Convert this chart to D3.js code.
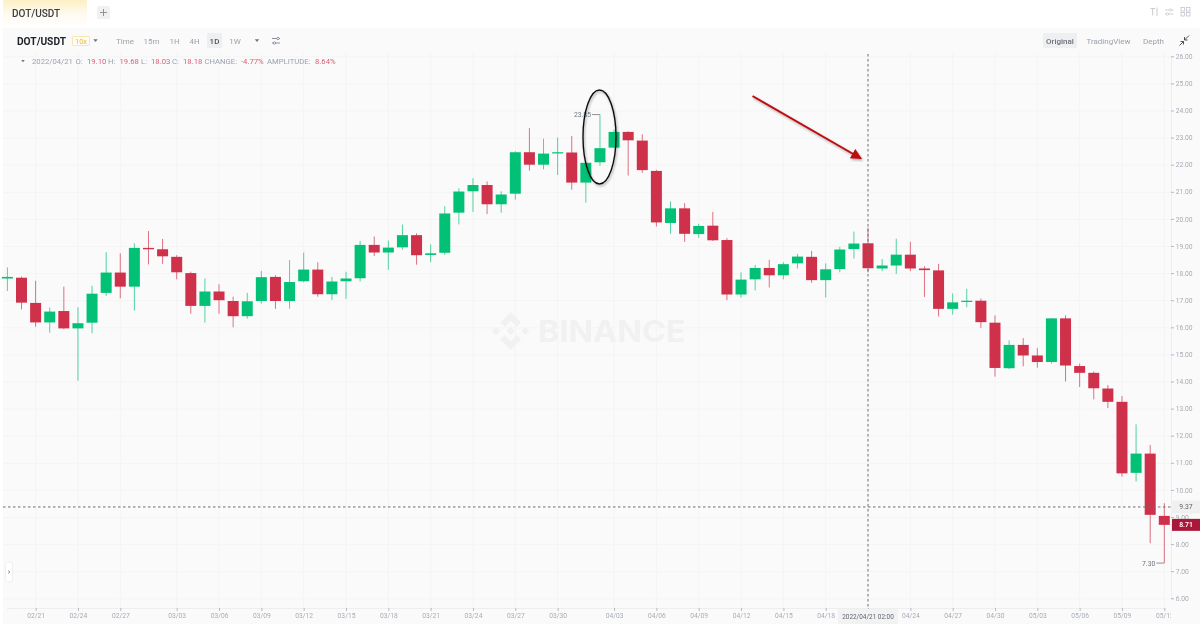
<!DOCTYPE html>
<html><head><meta charset="utf-8">
<script src="https://cdn.jsdelivr.net/npm/d3@7/dist/d3.min.js"></script>
<style>
html,body{margin:0;padding:0;background:#fff;overflow:hidden}
svg{display:block;filter:blur(0.35px);font-family:Roboto,"Noto Sans",sans-serif}
</style></head><body>
<svg id="c" width="1200" height="628"></svg>
<script>
const dates=["02/19","02/20","02/21","02/22","02/23","02/24","02/25","02/26","02/27","02/28","03/01","03/02","03/03","03/04","03/05","03/06","03/07","03/08","03/09","03/10","03/11","03/12","03/13","03/14","03/15","03/16","03/17","03/18","03/19","03/20","03/21","03/22","03/23","03/24","03/25","03/26","03/27","03/28","03/29","03/30","03/31","04/01","04/02","04/03","04/04","04/05","04/06","04/07","04/08","04/09","04/10","04/11","04/12","04/13","04/14","04/15","04/16","04/17","04/18","04/19","04/20","04/21","04/22","04/23","04/24","04/25","04/26","04/27","04/28","04/29","04/30","05/01","05/02","05/03","05/04","05/05","05/06","05/07","05/08","05/09","05/10","05/11","05/12"];
const opens=[17.80,17.83,16.90,16.18,16.60,15.96,16.17,17.27,18.02,17.50,18.93,18.88,18.60,18.00,16.79,17.32,16.97,16.41,16.97,17.86,16.97,17.70,18.13,17.22,17.70,17.81,19.04,18.76,18.95,19.40,18.67,18.75,20.23,21.02,21.25,20.54,20.93,22.46,22.00,22.42,22.45,21.34,22.09,22.63,23.21,22.89,21.77,19.85,20.39,19.44,19.75,19.22,17.21,17.77,18.19,17.92,18.36,18.60,17.74,18.15,18.89,19.10,18.17,18.28,18.68,18.17,18.10,16.68,16.95,16.98,16.17,14.49,15.35,14.96,14.72,16.33,14.57,14.32,13.74,13.25,10.63,11.34,9.04];
const closes=[17.86,16.91,16.18,16.58,15.96,16.15,17.24,18.02,17.50,18.93,18.88,18.62,18.03,16.79,17.32,17.00,16.41,16.96,17.85,16.97,17.67,18.13,17.22,17.69,17.80,19.04,18.76,18.94,19.40,18.66,18.73,20.20,21.01,21.25,20.54,20.90,22.46,22.00,22.41,22.46,21.34,22.07,22.61,23.21,22.90,21.80,19.87,20.39,19.45,19.74,19.21,17.21,17.76,18.19,17.92,18.33,18.61,17.74,18.14,18.87,19.09,18.18,18.28,18.68,18.17,18.11,16.68,16.92,16.98,16.19,14.50,15.35,14.96,14.72,16.33,14.59,14.32,13.75,13.25,10.61,11.34,9.08,8.71];
const highs=[18.21,17.87,17.72,16.73,17.50,16.74,17.53,18.77,18.73,19.10,19.55,19.26,18.66,18.05,17.80,17.59,17.13,17.27,18.08,17.92,18.48,18.76,18.40,17.86,18.05,19.19,19.35,19.20,19.79,19.47,19.06,20.47,21.13,21.50,21.38,21.02,22.50,23.35,22.96,23.00,23.06,22.07,23.85,23.30,23.23,23.12,21.81,20.65,20.58,19.82,20.26,19.29,18.03,18.30,18.49,18.40,18.71,18.82,18.36,18.97,19.53,19.68,18.52,19.27,19.15,18.25,18.34,17.25,17.42,17.06,16.44,15.52,15.60,15.23,16.33,16.44,14.66,14.37,13.87,13.47,12.42,11.66,9.51];
const lows=[17.34,16.66,16.02,15.80,15.93,14.03,15.78,17.16,17.07,16.62,18.32,18.34,17.77,16.50,16.17,16.50,16.00,16.32,16.87,16.68,16.69,17.66,17.13,17.01,17.05,17.69,18.63,18.12,18.86,18.31,18.40,18.67,19.80,20.26,20.18,20.23,20.71,21.78,21.83,21.62,21.08,20.60,21.96,22.60,21.60,21.70,19.72,19.45,19.15,19.30,19.19,17.00,17.10,17.36,17.47,17.77,18.17,17.64,17.10,18.03,18.54,18.03,18.07,17.97,18.07,17.12,16.40,16.47,16.74,15.98,14.18,14.46,14.56,14.51,14.66,14.00,13.80,13.34,13.02,10.49,10.31,8.03,7.30];
const xTickLabels=["02/21","02/24","02/27","03/03","03/06","03/09","03/12","03/15","03/18","03/21","03/24","03/27","03/30","04/03","04/06","04/09","04/12","04/15","04/18","04/21","04/24","04/27","04/30","05/03","05/06","05/09","05/12"];
const yTickValues=[6,7,8,9,10,11,12,13,14,15,16,17,18,19,20,21,22,23,24,25,26];
const highLabel="23.85", lowLabel="7.30", crossPrice=9.37, lastPrice=8.71, crossDate="04/21";
const crossDateLabel="2022/04/21 02:00";

const UP="#02C076",DOWN="#CF304A",DARK="#1e2329";
const svg=d3.select("#c");
const defs=svg.append("defs");
const g0=defs.append("linearGradient").attr("id","tab").attr("x1",0).attr("x2",0).attr("y1",0).attr("y2",1);
g0.append("stop").attr("offset",0).attr("stop-color","#fdf0c4");
g0.append("stop").attr("offset",.5).attr("stop-color","#fffaf0");
g0.append("stop").attr("offset",1).attr("stop-color","#fff");
defs.append("clipPath").attr("id","plot").append("rect").attr("x",3).attr("y",28).attr("width",1168).attr("height",596);
const sh=defs.append("filter").attr("id","shadow").attr("x","-30%").attr("y","-20%").attr("width","160%").attr("height","140%");
sh.append("feDropShadow").attr("dx",1).attr("dy",1.5).attr("stdDeviation",1.2).attr("flood-color","#000").attr("flood-opacity",.35);
const ah=defs.append("marker").attr("id","head").attr("viewBox","0 0 10 10").attr("refX",9).attr("refY",5).attr("markerWidth",5.4).attr("markerHeight",5.4).attr("orient","auto").attr("markerUnits","strokeWidth");
ah.append("path").attr("d","M0,0L10,5L0,10Z").attr("fill","#bb0a0f");

const x=d3.scalePoint().domain(dates).range([7.4,1164.3]);
const y=d3.scaleLinear().domain([6,26]).range([598.3,56.3]);
const bodyW=11;

// backgrounds
svg.append("rect").attr("width",1200).attr("height",628).attr("fill","#fff");
svg.append("rect").attr("x",3).attr("y",28).attr("width",1197).attr("height",596).attr("fill","#fafafa");
svg.append("rect").attr("x",3).attr("y",0).attr("width",84).attr("height",28).attr("fill","url(#tab)");

// grid
const grid=svg.append("g").attr("stroke","#f4f4f5").attr("stroke-width",1);
grid.selectAll(".v").data(xTickLabels).join("line").attr("x1",d=>x(d)).attr("x2",d=>x(d)).attr("y1",53).attr("y2",608);
grid.selectAll(".h").data(yTickValues).join("line").attr("x1",3).attr("x2",1171).attr("y1",d=>y(d)+.5).attr("y2",d=>y(d)+.5);

// watermark
const wm=svg.append("g").attr("transform","translate(510.7,331)").attr("fill","#f1f1f2");
wm.append("path").attr("d","M0,-19L10.5,-8.5L6,-4.2L0,-10.2L-6,-4.2L-10.5,-8.5Z");
wm.append("path").attr("d","M0,19L10.5,8.5L6,4.2L0,10.2L-6,4.2L-10.5,8.5Z");
wm.append("path").attr("d","M0,-4.2L4.2,0L0,4.2L-4.2,0Z");
wm.append("path").attr("d","M-14.6,-4.2L-10.4,0L-14.6,4.2L-18.8,0Z");
wm.append("path").attr("d","M14.6,-4.2L18.8,0L14.6,4.2L10.4,0Z");
wm.append("text").attr("x",27.3).attr("y",10.8).attr("font-size",30.5).attr("font-weight",700).attr("font-family","Inter,sans-serif").attr("textLength",147.5).attr("lengthAdjust","spacingAndGlyphs").text("BINANCE");

// axes
const xAxis=svg.append("g").attr("clip-path","url(#plot)").append("g").attr("transform","translate(0,608)")
  .call(d3.axisBottom(x).tickValues(xTickLabels).tickSize(3).tickPadding(2.5));
const yAxis=svg.append("g").attr("transform","translate(1171,0)")
  .call(d3.axisRight(y).tickValues(yTickValues).tickFormat(d3.format(".2f")).tickSize(3).tickPadding(1.8));
[xAxis,yAxis].forEach(a=>{
  a.selectAll("text").attr("fill","#a6acb6").attr("font-size",6.7).attr("font-family","Roboto,sans-serif");
  a.selectAll("line").attr("stroke","#b5b9c2");
  a.select(".domain").attr("stroke","#eeeeef");
});
// the crosshair date tag replaces this tick's label, as in the picture
xAxis.selectAll(".tick").filter(d=>d===crossDate).select("text").remove();

// candles
const rows=dates.map((d,i)=>({d,o:opens[i],h:highs[i],l:lows[i],c:closes[i]}));
const colour=r=>r.c>=r.o?UP:DOWN;
const candles=svg.append("g").selectAll("g").data(rows).join("g");
candles.append("line").attr("x1",r=>x(r.d)).attr("x2",r=>x(r.d)).attr("y1",r=>y(r.h)).attr("y2",r=>y(r.l))
  .attr("stroke",colour).attr("stroke-width",1).attr("stroke-opacity",.68);
candles.append("rect").attr("x",r=>x(r.d)-bodyW/2).attr("width",bodyW)
  .attr("y",r=>y(Math.max(r.o,r.c))).attr("height",r=>Math.max(1.2,Math.abs(y(r.o)-y(r.c)))).attr("fill",colour);

// high / low markers
const hi=rows.find(r=>r.h===d3.max(highs)), lo=rows.find(r=>r.l===d3.min(lows));
const mark=svg.append("g").attr("font-size",6.8).attr("fill","#6f7680");
mark.append("line").attr("x1",x(hi.d)-8).attr("x2",x(hi.d)).attr("y1",y(hi.h)).attr("y2",y(hi.h)).attr("stroke","#8d929a");
mark.append("text").attr("x",x(hi.d)-9).attr("y",y(hi.h)+2.5).attr("text-anchor","end").text(highLabel);
mark.append("line").attr("x1",x(lo.d)-8).attr("x2",x(lo.d)).attr("y1",y(lo.l)).attr("y2",y(lo.l)).attr("stroke","#8d929a");
mark.append("text").attr("x",x(lo.d)-9).attr("y",y(lo.l)+2.5).attr("text-anchor","end").text(lowLabel);

// crosshair
const ch=svg.append("g").attr("stroke","#6b6f76").attr("stroke-dasharray","2.5 2.5").attr("stroke-width",1);
ch.append("line").attr("x1",x(crossDate)).attr("x2",x(crossDate)).attr("y1",54).attr("y2",608);
ch.append("line").attr("x1",3).attr("x2",1171).attr("y1",y(crossPrice)).attr("y2",y(crossPrice));

// price tags
svg.append("rect").attr("x",1171).attr("y",y(crossPrice)-6.5).attr("width",29).attr("height",13).attr("fill","#f0f0f1");
svg.append("text").attr("x",1186).attr("y",y(crossPrice)+2.5).attr("text-anchor","middle").attr("font-size",6.8).attr("fill","#5e646d").text(crossPrice.toFixed(2));
svg.append("rect").attr("x",1172).attr("y",y(lastPrice)-6).attr("width",28).attr("height",12).attr("fill","#a9183a");
svg.append("text").attr("x",1186).attr("y",y(lastPrice)+2.5).attr("text-anchor","middle").attr("font-size",6.8).attr("font-weight",600).attr("fill","#fff").text(lastPrice.toFixed(2));
svg.append("rect").attr("x",x(crossDate)-30).attr("y",609).attr("width",60).attr("height",15).attr("fill","#f2f2f3");
svg.append("text").attr("x",x(crossDate)).attr("y",618.5).attr("text-anchor","middle").attr("font-size",6.4).attr("fill","#5e646d").text(crossDateLabel);

// annotations
svg.append("ellipse").attr("cx",599.5).attr("cy",137).attr("rx",16.5).attr("ry",47).attr("fill","none").attr("stroke","#111").attr("stroke-width",1.4).attr("filter","url(#shadow)");
svg.append("line").attr("x1",752.5).attr("y1",96).attr("x2",861).attr("y2",158.5).attr("stroke","#bb0a0f").attr("stroke-width",2).attr("marker-end","url(#head)").attr("filter","url(#shadow)");

// header text helper
function t(px,py,str,size,fill,weight,anchor){
  return svg.append("text").attr("x",px).attr("y",py).attr("font-size",size).attr("fill",fill)
    .attr("font-weight",weight||400).attr("text-anchor",anchor||"start").text(str);
}
t(12,16.5,"DOT/USDT",10,"#3b4048",500);
svg.append("rect").attr("x",97).attr("y",6).attr("width",13).attr("height",13).attr("rx",1.5).attr("fill","#f1f1f2");
svg.append("path").attr("d","M100,12.5H107M103.5,9V16").attr("stroke","#8f949c").attr("stroke-width",1);

t(17,44.5,"DOT/USDT",10.2,DARK,700);
svg.append("rect").attr("x",72.5).attr("y",36.5).attr("width",17).attr("height",9).attr("rx",1).attr("fill","#fffdf5").attr("stroke","#f6dd8a").attr("stroke-width",.7);
t(81,43.8,"10x",7.5,"#e0b84a",400,"middle");
const tri=(cx,cy,s)=>svg.append("path").attr("d",`M${cx-s},${cy-s*.6}H${cx+s}L${cx},${cy+s*.7}Z`).attr("fill","#6f7680");
tri(95.5,40.5,2.2);
[["Time",125],["15m",151.5],["1H",174.5],["4H",194.5],["1W",235]].forEach(([s,cx])=>t(cx,43.5,s,8,"#9aa1ad",400,"middle"));
svg.append("rect").attr("x",207).attr("y",33).attr("width",15).attr("height",15).attr("rx",1).attr("fill","#eeeff1");
t(214.5,43.5,"1D",8,"#50565f",500,"middle");
tri(257,40.5,2.2);
svg.append("path").attr("d","M272,38.5H280M272,43H280").attr("stroke","#6f7680").attr("stroke-width",.8);
svg.append("circle").attr("cx",278).attr("cy",38.5).attr("r",1.2).attr("fill","#fafafa").attr("stroke","#6f7680").attr("stroke-width",.7);
svg.append("circle").attr("cx",274.5).attr("cy",43).attr("r",1.2).attr("fill","#fafafa").attr("stroke","#6f7680").attr("stroke-width",.7);

tri(23,61,1.8);
const infoLabels=[["2022/04/21",32],["O:",75.5],["H:",108],["L:",141],["C:",172],["CHANGE:",204.5],["AMPLITUDE:",267]];
const infoValues=[["19.10",87],["19.68",119.5],["18.03",151],["18.18",183],["-4.77%",241],["8.64%",315]];
infoLabels.forEach(([s,px])=>t(px,64,s,7.7,"#9aa1ad"));
infoValues.forEach(([s,px])=>t(px,64,s,7.7,"#dd5d75"));

svg.append("rect").attr("x",1043).attr("y",33).attr("width",34).attr("height",15).attr("fill","#eeeff1");
t(1060,43.5,"Original",8,"#6b7079",500,"middle");
t(1108.5,43.5,"TradingView",8,"#9aa1ad",400,"middle");
t(1153.5,43.5,"Depth",8,"#9aa1ad",400,"middle");
svg.append("path").attr("d","M1189,35.5L1184.5,40M1184.5,37V40H1187.5M1179.5,45.5L1183.5,41.5M1180.5,41.5H1183.5V44.5").attr("fill","none").attr("stroke","#3b4048").attr("stroke-width",.9);

// top-right icons
svg.append("path").attr("d","M1150.5,8.5H1155M1152.7,8.5V15.5M1157,7.5V16").attr("fill","none").attr("stroke","#c2c5cb").attr("stroke-width",.9);
svg.append("path").attr("d","M1165,10H1173.5M1165,14H1173.5").attr("stroke","#c2c5cb").attr("stroke-width",.8);
svg.append("circle").attr("cx",1170.5).attr("cy",10).attr("r",1.3).attr("fill","#fff").attr("stroke","#c2c5cb").attr("stroke-width",.7);
svg.append("circle").attr("cx",1167.5).attr("cy",14).attr("r",1.3).attr("fill","#fff").attr("stroke","#c2c5cb").attr("stroke-width",.7);
[[1181,7.5],[1186.5,7.5],[1181,12.5],[1186.5,12.5]].forEach(([a,b])=>svg.append("rect").attr("x",a).attr("y",b).attr("width",3.5).attr("height",3.5).attr("fill","none").attr("stroke","#c2c5cb").attr("stroke-width",.8));

// collapse button
svg.append("rect").attr("x",5.5).attr("y",562).attr("width",7).attr("height",20).attr("rx",2).attr("fill","#fff").attr("stroke","#efeff0");
svg.append("path").attr("d","M8,570.5L10,572L8,573.5").attr("fill","none").attr("stroke","#777").attr("stroke-width",.7);
</script>
</body></html>
